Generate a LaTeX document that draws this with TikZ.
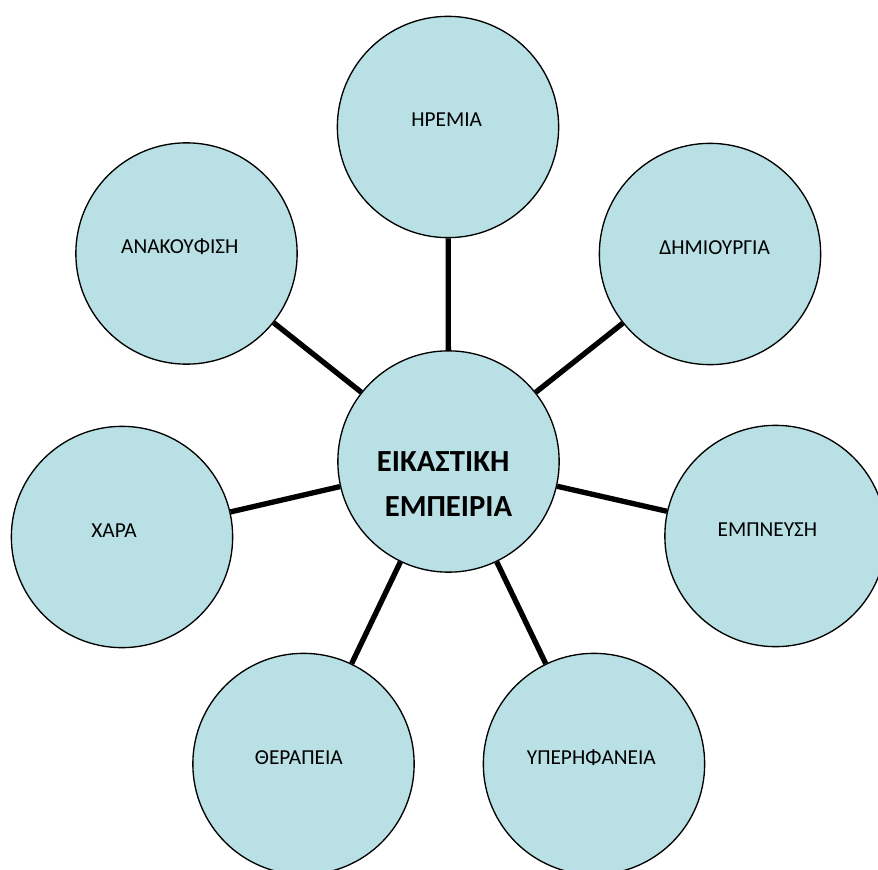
\documentclass[tikz,border=0pt]{standalone}
\usepackage{fontspec}
\setmainfont{Carlito}
\definecolor{bubblefill}{RGB}{185,224,228}

\begin{document}
\begin{tikzpicture}
[x=0.75pt,y=-0.75pt,
every node/.style={shape=circle,draw,line width=1pt,fill=bubblefill,minimum size=166pt,inner sep=0pt,align=center},
bubble/.style={font=\fontsize{16}{19}\selectfont,text height=8pt,text depth=8pt},
hub/.style={font=\bfseries\fontsize{23}{34}\selectfont,text height=84pt,text depth=1pt},
link/.style={line width=4pt}]

\useasboundingbox (0,0) rectangle (878,870);

\node[hub] (core) at (448.5,461.5) {ΕΙΚΑΣΤΙΚΗ\hspace*{8pt}\\ΕΜΠΕΙΡΙΑ};

\node[bubble] (calm) at (448,127) {ΗΡΕΜΙΑ\hspace*{2pt}};
\node[bubble] (creation) at (710,254) {\hspace*{7pt}ΔΗΜΙΟΥΡΓΙΑ};
\node[bubble] (inspiration) at (775.5,536) {ΕΜΠΝΕΥΣΗ\hspace*{12pt}};
\node[bubble] (pride) at (594,764) {ΥΠΕΡΗΦΑΝΕΙΑ\hspace*{4pt}};
\node[bubble] (therapy) at (303.5,764) {ΘΕΡΑΠΕΙΑ\hspace*{7pt}};
\node[bubble] (joy) at (122,537) {ΧΑΡΑ\hspace*{12pt}};
\node[bubble] (relief) at (186.5,253.5) {ΑΝΑΚΟΥΦΙΣΗ\hspace*{10pt}};

\foreach \n in {calm,creation,inspiration,pride,therapy,joy,relief}
	\draw[link] (core) -- (\n);
\end{tikzpicture}
\end{document}
